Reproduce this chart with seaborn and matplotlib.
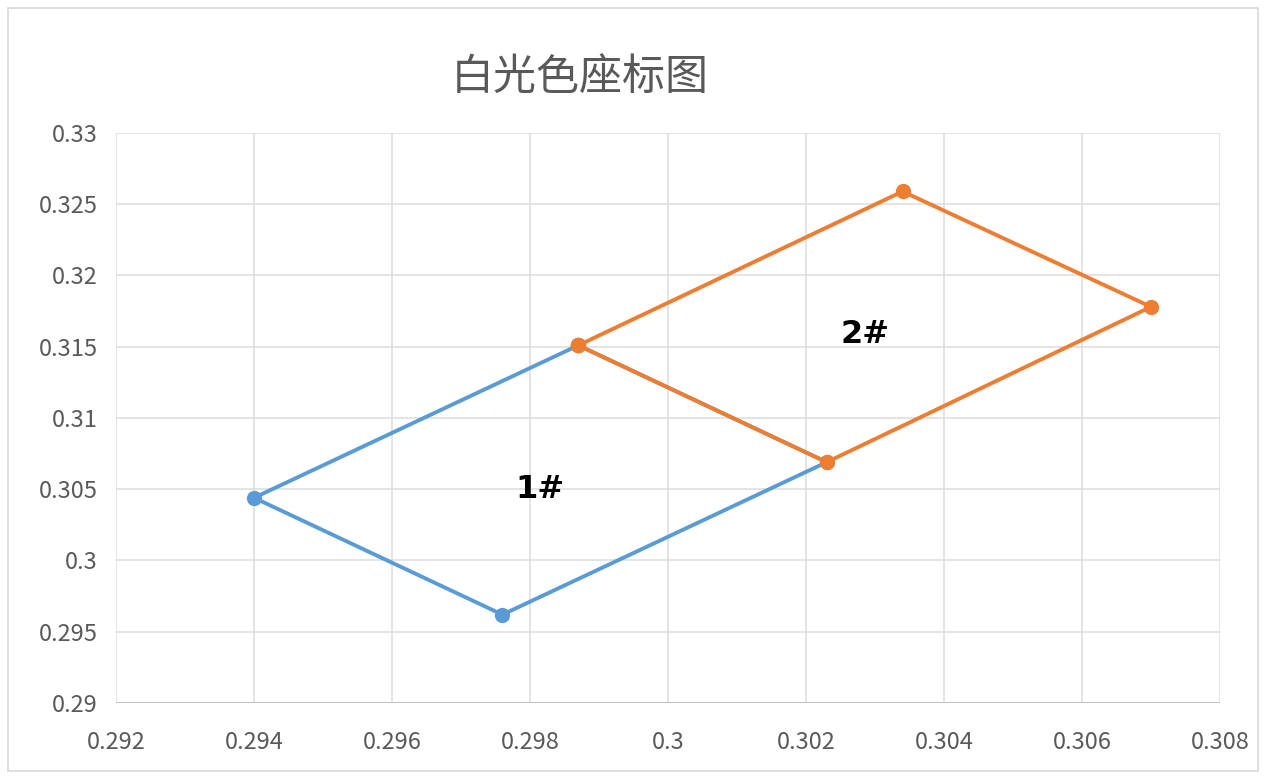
import seaborn as sns
import matplotlib.pyplot as plt
from matplotlib.patches import Rectangle

# chromaticity points, each loop closed back to its first point
x_1 = [0.2987, 0.2940, 0.2976, 0.3023, 0.2987]
y_1 = [0.3151, 0.3044, 0.2962, 0.3069, 0.3151]
x_2 = [0.2987, 0.3034, 0.3070, 0.3023, 0.2987]
y_2 = [0.3151, 0.3259, 0.3178, 0.3069, 0.3151]

label_text = ['1#', '2#']
label_x = [0.29815, 0.30286]
label_y = [0.30495, 0.31583]

x_ticks = [0.292, 0.294, 0.296, 0.298, 0.300, 0.302, 0.304, 0.306, 0.308]
x_tick_labels = ['0.292', '0.294', '0.296', '0.298', '0.3', '0.302', '0.304', '0.306', '0.308']
y_ticks = [0.29, 0.295, 0.30, 0.305, 0.31, 0.315, 0.32, 0.325, 0.33]
y_tick_labels = ['0.29', '0.295', '0.3', '0.305', '0.31', '0.315', '0.32', '0.325', '0.33']


def operation():
    sns.set_style('white')
    plt.rcParams['font.family'] = ['Noto Sans CJK SC', 'DejaVu Sans']

    fig = plt.figure(figsize=(12.64, 7.76), dpi=100)
    ax = fig.add_axes([0.0918, 0.0941, 0.8734, 0.7345])

    # outer chart border
    fig.patches.append(Rectangle((0.006, 0.006), 0.989, 0.984, transform=fig.transFigure,
                                 fill=False, edgecolor='#d9d9d9', linewidth=1.2))

    sns.lineplot(x=x_1, y=y_1, sort=False, estimator=None, ax=ax, color='#5B9BD5',
                 linewidth=2.8, marker='o', markersize=11, markeredgewidth=0)
    sns.lineplot(x=x_2, y=y_2, sort=False, estimator=None, ax=ax, color='#ED7D31',
                 linewidth=2.8, marker='o', markersize=11, markeredgewidth=0)

    for t, lx, ly in zip(label_text, label_x, label_y):
        ax.text(lx, ly, t, ha='center', va='center', fontsize=23, fontweight='bold',
                color='black', family=['DejaVu Sans'])

    ax.set_xlim(0.292, 0.308)
    ax.set_ylim(0.29, 0.33)
    ax.set_xticks(x_ticks)
    ax.set_xticklabels(x_tick_labels)
    ax.set_yticks(y_ticks)
    ax.set_yticklabels(y_tick_labels)
    ax.tick_params(length=0, labelsize=17, labelcolor='#595959')
    ax.tick_params(axis='y', pad=13)
    ax.tick_params(axis='x', pad=20)
    ax.grid(True, color='#dcdcdc', linewidth=1.1)
    ax.set_axisbelow(True)
    for s in ax.spines.values():
        s.set_visible(False)
    ax.axhline(0.29, color='#bfbfbf', linewidth=1.3, zorder=1)

    fig.text(0.459, 0.90, '白光色座标图', ha='center', va='center', fontsize=31, color='#595959')

    fig.savefig('out.png', dpi=100)


if __name__ == "__main__":
    operation()
